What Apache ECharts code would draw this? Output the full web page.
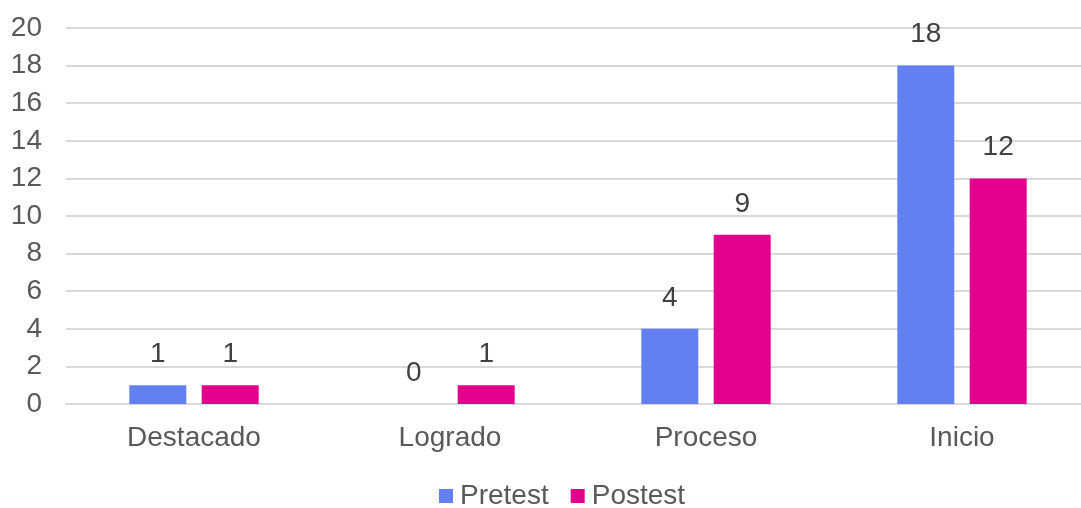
<!DOCTYPE html>
<html><head><meta charset="utf-8">
<script src="https://cdn.jsdelivr.net/npm/echarts@6/dist/echarts.min.js"></script>
<style>html,body{margin:0;padding:0;background:#fff;overflow:hidden;}#c{width:1090px;height:508px;}</style>
</head><body><div id="c"></div>
<script>
const categories = ['Destacado', 'Logrado', 'Proceso', 'Inicio'];
const pretest = [1, 0, 4, 18];
const postest = [1, 1, 9, 12];
const yTicks = { min: 0, max: 20, interval: 2 };

const font = 'Arial, "Liberation Sans", sans-serif';
const txt = '#595959';
const chart = echarts.init(document.getElementById('c'), null, { renderer: 'canvas' });
chart.setOption({
  animation: false,
  textStyle: { fontFamily: font },
  grid: { left: 66, top: 28, right: 0, height: 376, containLabel: false },
  legend: {
    top: 482, left: 439, itemWidth: 14, itemHeight: 14, itemGap: 22,
    icon: 'rect', padding: 0,
    textStyle: { fontSize: 28, color: txt, fontFamily: font, padding: [0, 0, 0, 2] },
    data: ['Pretest', 'Postest']
  },
  xAxis: {
    type: 'category', data: categories,
    axisLine: { lineStyle: { color: '#D9D9D9', width: 2 } },
    axisTick: { show: false },
    axisLabel: { fontSize: 28, color: txt, margin: 20, fontFamily: font }
  },
  yAxis: {
    type: 'value', min: yTicks.min, max: yTicks.max, interval: yTicks.interval,
    axisLine: { show: false }, axisTick: { show: false },
    splitLine: { lineStyle: { color: '#D9D9D9', width: 2 } },
    axisLabel: { fontSize: 28, color: txt, margin: 24, fontFamily: font }
  },
  series: [
    { name: 'Pretest', type: 'bar', data: pretest, barWidth: 57, barGap: '27%',
      itemStyle: { color: '#6480F0' },
      label: { show: true, position: 'top', distance: 17, fontSize: 28, color: '#404040', fontFamily: font } },
    { name: 'Postest', type: 'bar', data: postest, barWidth: 57,
      itemStyle: { color: '#E3008C' },
      label: { show: true, position: 'top', distance: 17, fontSize: 28, color: '#404040', fontFamily: font } }
  ]
});
</script></body></html>
